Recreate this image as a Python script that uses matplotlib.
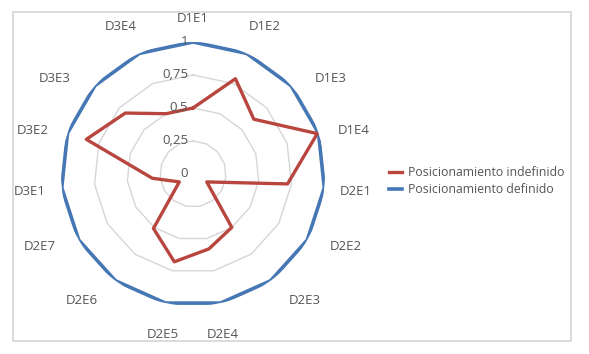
import matplotlib.pyplot as plt
import numpy as np
from matplotlib.patches import Rectangle

categories = [
    "D1E1", "D1E2", "D1E3", "D1E4", "D2E1", "D2E2", "D2E3", "D2E4",
    "D2E5", "D2E6", "D2E7", "D3E1", "D3E2", "D3E3", "D3E4",
]
indefinido = [0.50, 0.79, 0.62, 0.99, 0.72, 0.12, 0.50, 0.58,
              0.68, 0.51, 0.12, 0.31, 0.85, 0.69, 0.50]
definido = [1.0] * len(categories)
series_names = ["Posicionamiento indefinido", "Posicionamiento definido"]
r_ticks = [0, 0.25, 0.5, 0.75, 1]
r_tick_labels = ["0", "0,25", "0,5", "0,75", "1"]

RED = "#B8463F"
BLUE = "#4677B5"
GRID = "#D6D6D6"
TEXT = "#555555"

plt.rcParams["font.family"] = ["Open Sans", "DejaVu Sans"]

fig = plt.figure(figsize=(5.89, 3.54), dpi=100)
fig.patches.append(Rectangle((0.0221, 0.0367), 0.9474, 0.9294,
                             transform=fig.transFigure, fill=False,
                             edgecolor=GRID, linewidth=1.2))

ax = fig.add_axes([0.1036, 0.1356, 0.4482, 0.7458], projection="polar")
ax.set_theta_zero_location("N")
ax.set_theta_direction(-1)
ax.set_ylim(0, 1)
ax.grid(False)
ax.spines["polar"].set_visible(False)
ax.set_xticks([])
ax.set_yticks([])
ax.patch.set_alpha(0)

n = len(categories)
theta = np.arange(n) * 2 * np.pi / n
theta_c = np.append(theta, theta[0])

# polygon gridlines, Excel style
for r in r_ticks[1:-1]:
    ax.plot(theta_c, [r] * (n + 1), color=GRID, lw=1.0, zorder=1)

ax.plot(theta_c, definido + definido[:1], color=BLUE, lw=2.6,
        label=series_names[1], zorder=3)
ax.plot(theta_c, indefinido + indefinido[:1], color=RED, lw=2.4,
        label=series_names[0], zorder=4)

for r, lab in zip(r_ticks, r_tick_labels):
    ax.annotate(lab, xy=(0, r), xytext=(-3.5, 0), textcoords="offset points",
                ha="right", va="center", fontsize=9.5, color=TEXT, zorder=5)

# category labels: Excel pushes diagonal labels a bit toward the sides
for t, lab in zip(theta, categories):
    s2 = np.sin(2 * t)
    c12 = np.cos(t) ** 12
    phi = t + np.radians(7 * s2 * abs(s2) - 8 * s2 * c12)
    rho = 1.19 + 0.06 * abs(s2) + 0.04 * abs(np.sin(t))
    ax.text(0.5 + 0.5 * rho * np.sin(phi),
            0.5 + 0.5 * rho * np.cos(phi) - 0.006, lab,
            transform=ax.transAxes, ha="center", va="center", fontsize=9.5,
            color=TEXT, clip_on=False)

handles, labels = ax.get_legend_handles_labels()
order = [1, 0]
fig.legend([handles[i] for i in order], [labels[i] for i in order],
           loc="upper left", bbox_to_anchor=(0.660, 1 - 166 / 354),
           frameon=False, fontsize=8.8, handlelength=1.1, handletextpad=0.5,
           borderpad=0, borderaxespad=0, labelspacing=0.35,
           labelcolor=TEXT)

fig.savefig("out.png", dpi=100)
